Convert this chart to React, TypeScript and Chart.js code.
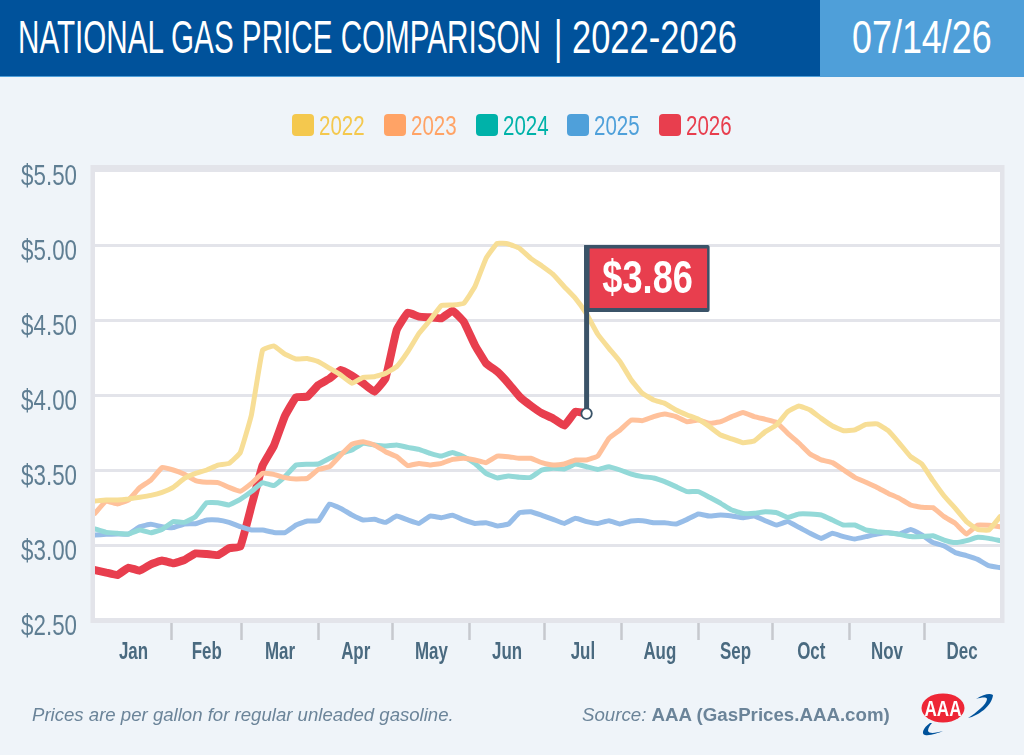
import { useEffect, useRef } from 'react';
import { Chart, registerables } from 'chart.js';

Chart.register(...registerables);

// sampled day of the year, shared by all series
const days = [
  0, 4.5, 9, 13.5, 18, 22.5, 27, 31.5, 36, 40.5, 45, 49.5, 54, 58.5, 63, 67.5, 72, 76.5, 81, 85.5,
  90, 94.5, 99, 103.5, 108, 112.5, 117, 121.5, 126, 130.5, 135, 139.5, 144, 148.5, 153, 157.5, 162, 166.5, 171, 175.5,
  180, 184.5, 189, 193.5, 198, 202.5, 207, 211.5, 216, 220.5, 225, 229.5, 234, 238.5, 243, 247.5, 252, 256.5, 261, 265.5,
  270, 274.5, 279, 283.5, 288, 292.5, 297, 301.5, 306, 310.5, 315, 319.5, 324, 328.5, 333, 337.5, 342, 346.5, 351, 355.5,
  360, 364.5,
];

const prices2022 = [
  3.293, 3.3, 3.3, 3.307, 3.318, 3.331, 3.351, 3.384, 3.444, 3.478, 3.5, 3.533, 3.544, 3.616, 3.867, 4.3, 4.327, 4.273, 4.24, 4.244,
  4.222, 4.178, 4.133, 4.078, 4.118, 4.122, 4.144, 4.189, 4.289, 4.411, 4.5, 4.596, 4.6, 4.611, 4.722, 4.911, 5.011, 5.007, 4.978, 4.911,
  4.86, 4.804, 4.722, 4.644, 4.54, 4.405, 4.311, 4.222, 4.1, 4.011, 3.967, 3.944, 3.9, 3.867, 3.838, 3.789, 3.733, 3.707, 3.682, 3.693,
  3.756, 3.8, 3.889, 3.927, 3.9, 3.844, 3.793, 3.762, 3.767, 3.804, 3.807, 3.762, 3.678, 3.589, 3.54, 3.429, 3.327, 3.244, 3.156, 3.104,
  3.1, 3.189,
];
const prices2023 = [
  3.211, 3.293, 3.273, 3.3, 3.382, 3.433, 3.516, 3.5, 3.471, 3.429, 3.418, 3.416, 3.384, 3.358, 3.411, 3.478, 3.471, 3.449, 3.44, 3.444,
  3.504, 3.522, 3.6, 3.673, 3.689, 3.667, 3.622, 3.589, 3.529, 3.544, 3.533, 3.544, 3.571, 3.578, 3.567, 3.549, 3.593, 3.589, 3.578, 3.578,
  3.549, 3.533, 3.54, 3.567, 3.567, 3.593, 3.711, 3.767, 3.833, 3.829, 3.856, 3.873, 3.856, 3.822, 3.833, 3.811, 3.822, 3.856, 3.884, 3.856,
  3.838, 3.818, 3.744, 3.68, 3.607, 3.567, 3.549, 3.5, 3.451, 3.418, 3.384, 3.344, 3.311, 3.267, 3.251, 3.249, 3.189, 3.144, 3.073, 3.133,
  3.131, 3.122,
];
const prices2024 = [
  3.107, 3.084, 3.078, 3.073, 3.1, 3.082, 3.104, 3.156, 3.151, 3.189, 3.282, 3.282, 3.267, 3.304, 3.356, 3.416, 3.396, 3.456, 3.533, 3.538,
  3.54, 3.578, 3.611, 3.633, 3.678, 3.667, 3.66, 3.667, 3.651, 3.638, 3.611, 3.593, 3.616, 3.589, 3.544, 3.478, 3.447, 3.46, 3.451, 3.451,
  3.5, 3.511, 3.507, 3.54, 3.522, 3.504, 3.522, 3.5, 3.473, 3.456, 3.447, 3.422, 3.389, 3.356, 3.356, 3.318, 3.278, 3.233, 3.211, 3.211,
  3.222, 3.216, 3.184, 3.207, 3.207, 3.2, 3.167, 3.133, 3.133, 3.1, 3.089, 3.082, 3.071, 3.056, 3.056, 3.062, 3.033, 3.016, 3.029, 3.051,
  3.044, 3.029,
];
const prices2025 = [
  3.067, 3.071, 3.073, 3.073, 3.122, 3.138, 3.122, 3.116, 3.14, 3.142, 3.167, 3.167, 3.151, 3.122, 3.1, 3.1, 3.084, 3.082, 3.133, 3.16,
  3.162, 3.273, 3.244, 3.2, 3.167, 3.171, 3.151, 3.193, 3.167, 3.144, 3.193, 3.182, 3.198, 3.167, 3.144, 3.149, 3.127, 3.14, 3.216, 3.222,
  3.198, 3.171, 3.144, 3.178, 3.156, 3.144, 3.162, 3.14, 3.16, 3.162, 3.149, 3.149, 3.14, 3.171, 3.207, 3.193, 3.2, 3.193, 3.182, 3.193,
  3.162, 3.133, 3.156, 3.118, 3.078, 3.044, 3.078, 3.056, 3.04, 3.056, 3.073, 3.082, 3.073, 3.104, 3.067, 3.016, 2.993, 2.949, 2.929, 2.904,
  2.862, 2.849,
];
const prices2026 = [
  2.833, 2.816, 2.8, 2.849, 2.829, 2.871, 2.896, 2.878, 2.9, 2.944, 2.94, 2.933, 2.978, 2.989, 3.26, 3.53, 3.66, 3.86, 3.985, 3.989,
  4.067, 4.11, 4.167, 4.129, 4.078, 4.022, 4.111, 4.433, 4.549, 4.522, 4.518, 4.511, 4.562, 4.489, 4.333, 4.211, 4.156, 4.078, 3.989, 3.929,
  3.878, 3.844, 3.796, 3.889, 3.876,
];

const years = ['2022', '2023', '2024', '2025', '2026'];
const seriesPrices = [prices2022, prices2023, prices2024, prices2025, prices2026];
const lineColors = ['#F7DE96', '#FFC19B', '#93D9D8', '#97BDE8', '#E83E4E'];
const legendColors = ['#F4C84E', '#FFA366', '#00B2A9', '#4FA0DA', '#E83E4E'];

const months = ['Jan', 'Feb', 'Mar', 'Apr', 'May', 'Jun', 'Jul', 'Aug', 'Sep', 'Oct', 'Nov', 'Dec'];
const monthEnds = [31, 59, 90, 120, 151, 181, 212, 243, 273, 304, 334, 364.5];

const flagLabel = '$3.86';

const PAGE_BG = '#EFF4F9';
const GRID = '#E3E4EA';
const SANS = '"Liberation Sans", sans-serif';
const SLATE = '#3A5368';

// month midpoints carry the labels, month ends carry the tick marks
const monthMids = monthEnds.map((end, i) => (end + (i === 0 ? 0 : monthEnds[i - 1])) / 2);

// no condensed font is installed, so squeeze the text sideways
function squeezedText(ctx: CanvasRenderingContext2D, text: string, x: number, y: number, squeeze: number) {
  ctx.save();
  ctx.translate(x, y);
  ctx.scale(squeeze, 1);
  ctx.fillText(text, 0, 0);
  ctx.restore();
}

const framePlugin = {
  id: 'frame',
  beforeDraw(chart: Chart) {
    const { ctx, chartArea: a } = chart;
    ctx.save();
    ctx.fillStyle = '#fff';
    ctx.fillRect(a.left, a.top, a.width, a.height);
    ctx.restore();
  },
  beforeDatasetsDraw(chart: Chart) {
    const { ctx, chartArea: a } = chart;
    ctx.save();
    ctx.fillStyle = GRID;
    ctx.beginPath();
    ctx.rect(a.left - 4.5, a.top - 5, a.width + 9, a.height + 8);
    ctx.rect(a.left, a.top + 1.6, a.width, a.height - 3.6);
    ctx.fill('evenodd');
    ctx.restore();
  },
};

// draws the scales' own tick labels, condensed
const tickLabelPlugin = {
  id: 'tickLabels',
  afterDraw(chart: Chart) {
    const { ctx, scales, chartArea: a } = chart;
    ctx.save();
    ctx.textBaseline = 'middle';

    ctx.fillStyle = '#5F7E93';
    ctx.font = `29px ${SANS}`;
    ctx.textAlign = 'right';
    scales.y.ticks.forEach((tick, i) => {
      squeezedText(ctx, String(tick.label), a.left - 18, scales.y.getPixelForTick(i) + 7, 0.77);
    });

    ctx.fillStyle = '#4A6A80';
    ctx.font = `bold 23.5px ${SANS}`;
    ctx.textAlign = 'center';
    scales.x.ticks.forEach((tick, i) => {
      if (tick.label) squeezedText(ctx, String(tick.label), scales.x.getPixelForTick(i), a.bottom + 32.5, 0.72);
    });
    ctx.restore();
  },
};

const flagPlugin = {
  id: 'flag',
  afterDatasetsDraw(chart: Chart) {
    const { ctx, scales } = chart;
    const last = prices2026.length - 1;
    const x = scales.x.getPixelForValue(days[last]);
    const y = scales.y.getPixelForValue(prices2026[last]);
    const top = scales.y.getPixelForValue(5);
    ctx.save();
    // pole and flag
    ctx.fillStyle = SLATE;
    ctx.fillRect(x - 2.5, top, 5, y - top);
    ctx.beginPath();
    ctx.roundRect(x - 2.5, top, 125.5, 67, 2);
    ctx.fill();
    ctx.fillStyle = '#E83E4E';
    ctx.fillRect(x + 3, top + 3.5, 117.5, 59.5);
    ctx.fillStyle = '#fff';
    ctx.font = `bold 47px ${SANS}`;
    ctx.textAlign = 'center';
    ctx.textBaseline = 'middle';
    squeezedText(ctx, flagLabel, x + 61, top + 35.5, 0.77);
    // end dot
    ctx.beginPath();
    ctx.arc(x, y, 5.2, 0, Math.PI * 2);
    ctx.fillStyle = '#fff';
    ctx.fill();
    ctx.lineWidth = 1.8;
    ctx.strokeStyle = SLATE;
    ctx.stroke();
    ctx.restore();
  },
};

function AAALogo() {
  return (
    <svg width={80} height={50} viewBox="0 0 80 50" style={{ position: 'absolute', left: 918, top: 690 }}>
      <path d="M50 28 C60 26 74 16 75 5 C72 3 66 4 58 9 C64 7 69 7 69 9 C69 14 58 23 50 28 Z" fill="#00529B" />
      <path d="M12 33 C5 38 3 44 7 45 C12 46 20 43 25 41 C18 43 11 44 10 41 C10 38 12 35 14 33 Z" fill="#00529B" />
      <ellipse cx={25} cy={18} rx={21.5} ry={14.5} fill="#EE2636" />
      <text
        x={25}
        y={26}
        textAnchor="middle"
        fontFamily={SANS}
        fontWeight="bold"
        fontSize={22}
        textLength={37}
        lengthAdjust="spacingAndGlyphs"
        fill="#fff"
      >
        AAA
      </text>
    </svg>
  );
}

export default function App() {
  const canvasRef = useRef<HTMLCanvasElement>(null);

  useEffect(() => {
    if (!canvasRef.current) return;
    document.body.style.margin = '0';

    const chart = new Chart(canvasRef.current, {
      type: 'line',
      data: {
        datasets: years.map((year, i) => ({
          label: year,
          data: seriesPrices[i].map((price, j) => ({ x: days[j], y: price })),
          borderColor: lineColors[i],
          borderWidth: i === 4 ? 8 : 5,
          borderCapStyle: 'round' as const,
          borderJoinStyle: 'round' as const,
          pointRadius: 0,
          tension: 0.1,
        })),
      },
      options: {
        responsive: false,
        animation: false,
        layout: { padding: { top: 170, right: 24 } },
        plugins: { legend: { display: false }, tooltip: { enabled: false } },
        scales: {
          x: {
            type: 'linear',
            min: 0,
            max: 364.5,
            afterFit: (scale) => {
              scale.height = 135;
            },
            afterBuildTicks: (scale) => {
              scale.ticks = [...monthMids, ...monthEnds.slice(0, -1)]
                .sort((a, b) => a - b)
                .map((value) => ({ value }));
            },
            border: { display: false },
            grid: {
              drawOnChartArea: false,
              tickLength: 20,
              tickWidth: 2.5,
              tickColor: (ctx) => (monthEnds.includes(ctx.tick.value) ? '#C6C9CE' : 'rgba(0,0,0,0)'),
            },
            ticks: {
              display: false,
              autoSkip: false,
              callback: (value) => months[monthMids.indexOf(Number(value))] ?? '',
            },
          },
          y: {
            min: 2.5,
            max: 5.5,
            afterFit: (scale) => {
              scale.width = 95;
            },
            border: { display: false },
            grid: { color: GRID, lineWidth: 3, drawTicks: false },
            ticks: {
              display: false,
              stepSize: 0.5,
              callback: (value) => `$${Number(value).toFixed(2)}`,
            },
          },
        },
      },
      plugins: [framePlugin, tickLabelPlugin, flagPlugin],
    });

    return () => {
      chart.destroy();
    };
  }, []);

  const narrowText = (squeeze: number) => ({
    position: 'absolute' as const,
    fontFamily: SANS,
    transform: `scaleX(${squeeze})`,
    transformOrigin: 'left center',
    whiteSpace: 'pre' as const,
    lineHeight: 1,
  });

  return (
    <div
      style={{
        position: 'absolute',
        left: 0,
        top: 0,
        width: 1024,
        height: 755,
        overflow: 'hidden',
        background: PAGE_BG,
        fontFamily: SANS,
      }}
    >
      <canvas ref={canvasRef} width={1024} height={755} style={{ position: 'absolute', left: 0, top: 0 }} />

      <div style={{ position: 'absolute', left: 0, top: 0, width: 1024, height: 76, background: '#00529B' }} />
      <div style={{ position: 'absolute', left: 820, top: 0, width: 204, height: 76, background: '#4F9FD9' }} />
      <div style={{ position: 'absolute', left: 0, top: 76, width: 1024, height: 1, background: '#4F9FD9' }} />
      <div style={{ ...narrowText(0.644), left: 18, top: 14, fontSize: 46, color: '#fff' }}>
        NATIONAL GAS PRICE COMPARISON
      </div>
      <div style={{ ...narrowText(0.7), left: 554, top: 14, fontSize: 46, color: '#fff' }}>|</div>
      <div style={{ ...narrowText(0.75), left: 572, top: 14, fontSize: 46, color: '#fff' }}>2022-2026</div>
      <div style={{ ...narrowText(0.78), left: 852, top: 14, fontSize: 46, color: '#fff' }}>07/14/26</div>

      {years.map((year, i) => (
        <div key={year}>
          <div
            style={{
              position: 'absolute',
              left: 292 + i * 91.8,
              top: 114,
              width: 22,
              height: 22,
              borderRadius: 4,
              background: legendColors[i],
            }}
          />
          <div style={{ ...narrowText(0.76), left: 319 + i * 91.8, top: 113, fontSize: 27, color: legendColors[i] }}>
            {year}
          </div>
        </div>
      ))}

      <div
        style={{
          position: 'absolute',
          left: 32,
          top: 704,
          fontSize: 18.6,
          fontStyle: 'italic',
          color: '#6B8499',
          whiteSpace: 'pre',
        }}
      >
        Prices are per gallon for regular unleaded gasoline.
      </div>
      <div
        style={{
          position: 'absolute',
          left: 582,
          top: 704,
          fontSize: 18.7,
          fontStyle: 'italic',
          color: '#6B8499',
          whiteSpace: 'pre',
        }}
      >
        Source: <b style={{ fontStyle: 'normal' }}>AAA (GasPrices.AAA.com)</b>
      </div>
      <AAALogo />
    </div>
  );
}
